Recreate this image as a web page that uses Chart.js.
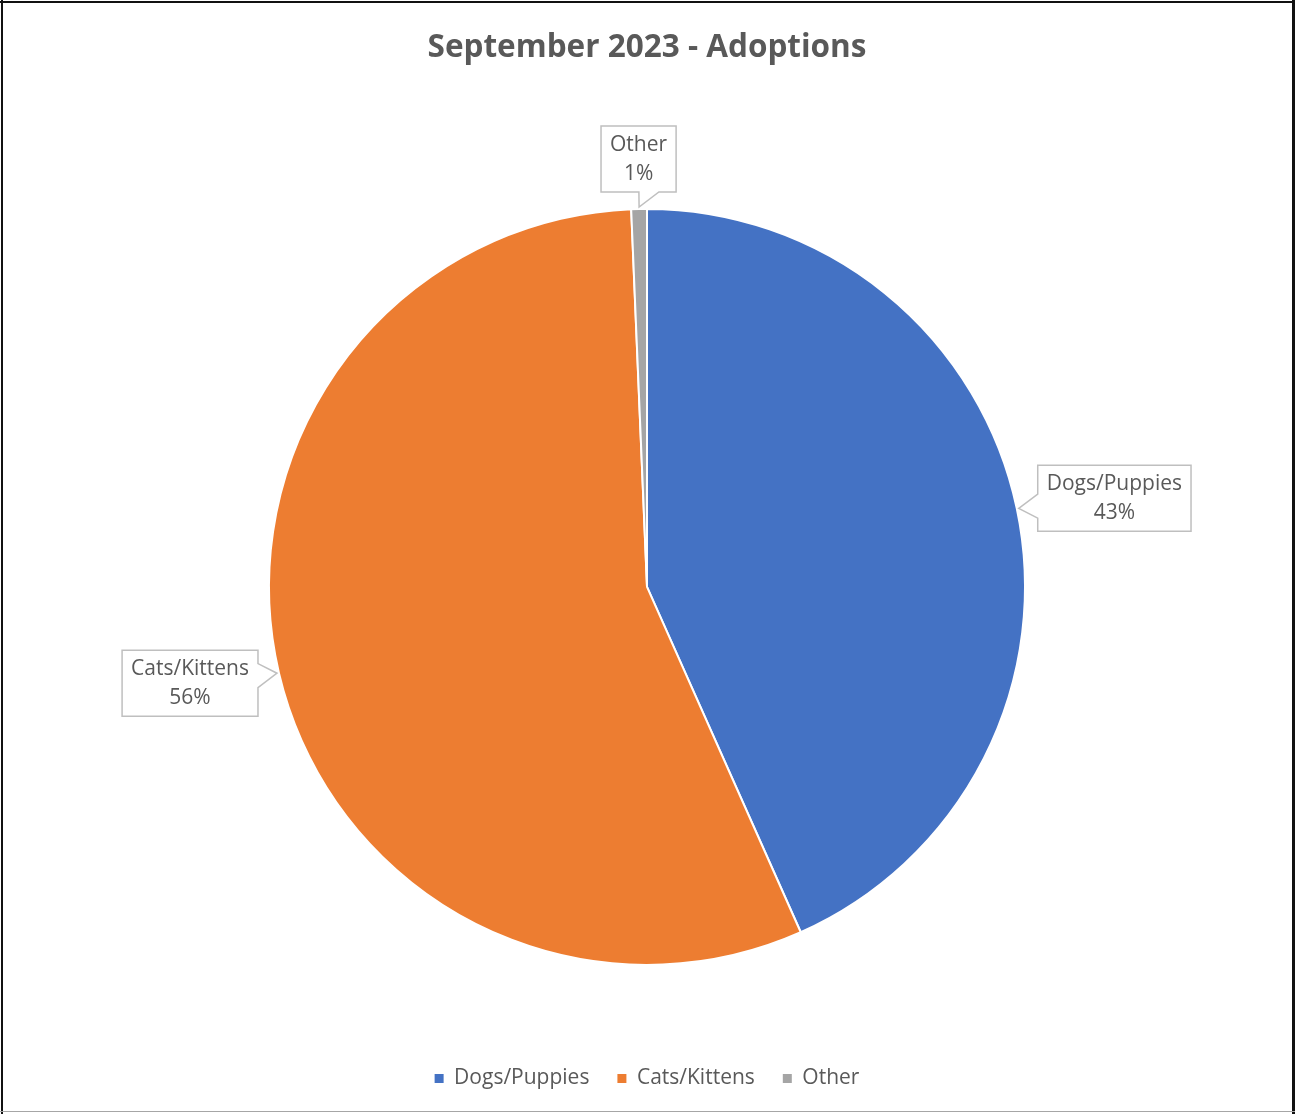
<!DOCTYPE html>
<html>
<head>
<meta charset="utf-8">
<script src="https://cdn.jsdelivr.net/npm/chart.js@4/dist/chart.umd.min.js"></script>
<style>
  html, body { margin: 0; padding: 0; background: #ffffff; }
  #wrap { width: 1295px; height: 1114px; position: relative; }
</style>
</head>
<body>
<div id="wrap"><canvas id="pie"></canvas></div>
<script>
const categories = ["Dogs/Puppies", "Cats/Kittens", "Other"];
const adoptions = [65, 84, 1];
const sliceColors = ["#4472C4", "#ED7D31", "#A5A5A5"];
const chartTitle = "September 2023 - Adoptions";

const textColor = "#595959";
const fontFamily = "'Open Sans', 'DejaVu Sans', sans-serif";

// callout boxes like Excel data labels (category name + percent)
const calloutPlugin = {
  id: "callouts",
  afterDatasetsDraw(chart) {
    const ctx = chart.ctx;
    const meta = chart.getDatasetMeta(0);
    const total = adoptions.reduce((a, b) => a + b, 0);
    ctx.save();
    ctx.font = "21px " + fontFamily;
    meta.data.forEach((arc, i) => {
      const p = arc.getProps(["x", "y", "startAngle", "endAngle", "outerRadius"], true);
      const mid = (p.startAngle + p.endAngle) / 2;
      const dx = Math.cos(mid), dy = Math.sin(mid);
      const tipX = p.x + dx * p.outerRadius;
      const tipY = p.y + dy * p.outerRadius;
      const pct = Math.round((adoptions[i] / total) * 100) + "%";
      const lines = [categories[i], pct];
      const w = Math.max(...lines.map((t) => ctx.measureText(t).width)) + 18;
      const h = 66;
      const horiz = Math.abs(dx) > Math.abs(dy);
      let cx, cy, side;
      if (horiz) {
        side = dx > 0 ? "left" : "right";
        const gap = 21 + w / 2;
        cx = tipX + Math.sign(dx) * gap;
        cy = tipY + dy * gap * 0.5;
      } else {
        side = dy < 0 ? "bottom" : "top";
        const gap = 17 + h / 2;
        cy = tipY + Math.sign(dy) * gap;
        cx = tipX + dx * gap * 0.5;
      }
      const bx = cx - w / 2, by = cy - h / 2;

      ctx.beginPath();
      if (side === "left" || side === "right") {
        const ex = side === "left" ? bx : bx + w;
        const cross = cy + (tipY - cy) * ((ex - cx) / (tipX - cx));
        const a = Math.max(by + 2, cross - 12), b = Math.min(by + h - 2, cross + 12);
        if (side === "left") {
          ctx.moveTo(bx, by);
          ctx.lineTo(bx + w, by);
          ctx.lineTo(bx + w, by + h);
          ctx.lineTo(bx, by + h);
          ctx.lineTo(bx, b);
          ctx.lineTo(tipX + 2, tipY);
          ctx.lineTo(bx, a);
        } else {
          ctx.moveTo(bx, by);
          ctx.lineTo(bx + w, by);
          ctx.lineTo(bx + w, a);
          ctx.lineTo(tipX - 2, tipY);
          ctx.lineTo(bx + w, b);
          ctx.lineTo(bx + w, by + h);
          ctx.lineTo(bx, by + h);
        }
      } else {
        const ey = side === "bottom" ? by + h : by;
        const cross = cx + (tipX - cx) * ((ey - cy) / (tipY - cy));
        const a = Math.max(bx + 2, cross), b = Math.min(bx + w - 2, cross + 20);
        ctx.moveTo(bx, by);
        ctx.lineTo(bx + w, by);
        ctx.lineTo(bx + w, ey);
        ctx.lineTo(b, ey);
        ctx.lineTo(tipX, tipY - 2);
        ctx.lineTo(a, ey);
        ctx.lineTo(bx, ey);
      }
      ctx.closePath();
      ctx.fillStyle = "#ffffff";
      ctx.fill();
      ctx.strokeStyle = "#BFBFBF";
      ctx.lineWidth = 1.5;
      ctx.stroke();
      ctx.fillStyle = textColor;
      ctx.textAlign = "center";
      ctx.textBaseline = "middle";
      ctx.fillText(lines[0], cx, by + 19);
      ctx.fillText(lines[1], cx, by + 48);
    });
    ctx.restore();
  },
  afterDraw(chart) {
    const ctx = chart.ctx;
    ctx.save();
    ctx.fillStyle = "#111111";
    ctx.fillRect(0, 1, chart.width, 2);
    ctx.fillRect(1, 0, 2, chart.height);
    ctx.fillRect(chart.width - 3, 0, 3, chart.height);
    ctx.fillStyle = "#A6A6A6";
    ctx.fillRect(0, 1111, chart.width, 1);
    ctx.restore();
  },
};

new Chart(document.getElementById("pie"), {
  type: "pie",
  data: {
    labels: categories,
    datasets: [
      {
        data: adoptions,
        backgroundColor: sliceColors,
        borderColor: "#ffffff",
        borderWidth: 2,
      },
    ],
  },
  options: {
    responsive: true,
    maintainAspectRatio: false,
    animation: false,
    layout: {
      padding: { left: 268, right: 269, top: 0, bottom: 15 },
    },
    plugins: {
      title: {
        display: true,
        text: chartTitle,
        color: textColor,
        font: { family: fontFamily, size: 31.5, weight: "bold" },
        padding: { top: 29, bottom: 67 },
      },
      legend: {
        position: "bottom",
        labels: {
          color: textColor,
          font: { family: fontFamily, size: 21 },
          boxWidth: 9,
          boxHeight: 9,
          padding: 28,
          generateLabels(chart) {
            return Chart.overrides.pie.plugins.legend.labels
              .generateLabels(chart)
              .map((item) => ({ ...item, lineWidth: 0 }));
          },
        },
      },
      tooltip: { enabled: false },
    },
  },
  plugins: [calloutPlugin],
});
</script>
</body>
</html>
